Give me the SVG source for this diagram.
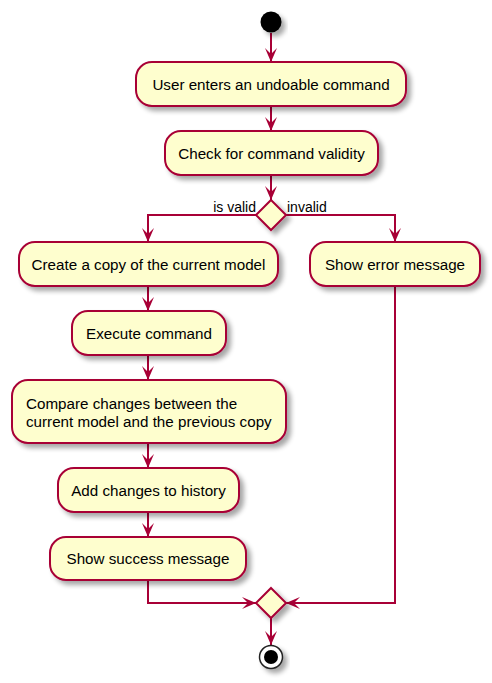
<svg xmlns="http://www.w3.org/2000/svg" width="492" height="683" viewBox="0 0 492 683">
<defs>
<filter id="sh" x="-20%" y="-20%" width="150%" height="160%">
<feGaussianBlur in="SourceAlpha" stdDeviation="2.5"/>
<feOffset dx="4" dy="4" result="b"/>
<feComponentTransfer><feFuncA type="linear" slope="0.35"/></feComponentTransfer>
<feMerge><feMergeNode/><feMergeNode in="SourceGraphic"/></feMerge>
</filter>
<marker id="ah" viewBox="0 0 14 12" refX="14" refY="6" markerWidth="14" markerHeight="12" markerUnits="userSpaceOnUse" orient="auto">
<path d="M0,0 L14,6 L0,12 L6,6 Z" fill="#A80036"/>
</marker>
</defs>
<style>
.box{fill:#FEFECE;stroke:#A80036;stroke-width:2;filter:url(#sh)}
.dia{fill:#FEFECE;stroke:#A80036;stroke-width:2;filter:url(#sh)}
.t{font-family:"Liberation Sans",Arial,sans-serif;font-size:15.2px;fill:#000}
.c{text-anchor:middle}
.lbl{font-family:"Liberation Sans",Arial,sans-serif;font-size:14px;fill:#000}
.ln{fill:none;stroke:#A80036;stroke-width:2}
</style>
<rect width="492" height="683" fill="#FFFFFF"/>
<g id="connectors">
<path class="ln" d="M271,33 V62" marker-end="url(#ah)"/>
<path class="ln" d="M271,106 V131" marker-end="url(#ah)"/>
<path class="ln" d="M271,175 V200" marker-end="url(#ah)"/>
<path class="ln" d="M256,215 H148 V242" marker-end="url(#ah)"/>
<path class="ln" d="M286,215 H395 V242" marker-end="url(#ah)"/>
<path class="ln" d="M148,286 V311" marker-end="url(#ah)"/>
<path class="ln" d="M148,355 V380" marker-end="url(#ah)"/>
<path class="ln" d="M148,443 V468" marker-end="url(#ah)"/>
<path class="ln" d="M148,512 V537" marker-end="url(#ah)"/>
<path class="ln" d="M148,580 V603 H256" marker-end="url(#ah)"/>
<path class="ln" d="M395,286 V603 H286" marker-end="url(#ah)"/>
<path class="ln" d="M271,618 V645" marker-end="url(#ah)"/>
<text class="lbl" x="256" y="212" text-anchor="end">is valid</text>
<text class="lbl" x="287" y="212">invalid</text>
</g>
<g id="start"><circle cx="271" cy="22" r="10.5" fill="#000" filter="url(#sh)"/></g>
<g id="n1"><rect class="box" x="136" y="62" width="270" height="44" rx="16"/><text class="t c" x="271" y="89.5">User enters an undoable command</text></g>
<g id="n2"><rect class="box" x="165" y="131" width="213" height="44" rx="16"/><text class="t c" x="271.5" y="158.5">Check for command validity</text></g>
<g id="d1"><polygon class="dia" points="271,200 286,215 271,230 256,215"/></g>
<g id="n3"><rect class="box" x="19" y="242" width="259" height="44" rx="16"/><text class="t c" x="148.5" y="269.5">Create a copy of the current model</text></g>
<g id="n4"><rect class="box" x="310" y="242" width="170" height="44" rx="16"/><text class="t c" x="395" y="269.5">Show error message</text></g>
<g id="n5"><rect class="box" x="72" y="311" width="154" height="44" rx="16"/><text class="t c" x="149" y="338.5">Execute command</text></g>
<g id="n6"><rect class="box" x="12" y="380" width="274" height="63" rx="16"/><text class="t" x="26" y="408.5">Compare changes between the</text><text class="t" x="26" y="427">current model and the previous copy</text></g>
<g id="n7"><rect class="box" x="58" y="468" width="181" height="44" rx="16"/><text class="t c" x="148.5" y="495.5">Add changes to history</text></g>
<g id="n8"><rect class="box" x="50" y="537" width="196" height="43" rx="16"/><text class="t c" x="148" y="564">Show success message</text></g>
<g id="d2"><polygon class="dia" points="271,588 286,603 271,618 256,603"/></g>
<g id="end"><circle cx="271" cy="657" r="11.5" fill="#FFFFFF" stroke="#222222" stroke-width="1.5" filter="url(#sh)"/><circle cx="271" cy="657" r="7" fill="#000"/></g>
</svg>
